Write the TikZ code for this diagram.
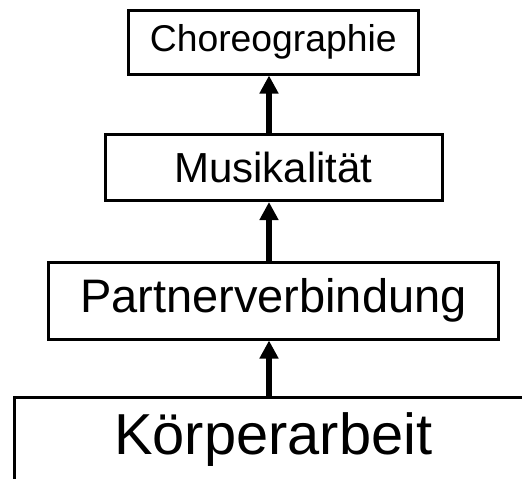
\documentclass[tikz,border=0pt]{standalone}
\usepackage{fontspec}
\setmainfont{Liberation Sans}
\usetikzlibrary{arrows.meta, positioning, calc}
\tikzset{
    stufe/.style={rectangle, draw=black, line width=3pt, fill=white, inner sep=0pt},
    pfeil/.style={-{Triangle[length=18pt,width=18pt]}, line width=6pt, draw=black}
}

\begin{document}
\begin{tikzpicture}[x=1pt, y=-1pt]
    \clip (0,0) rectangle (522,479);
    \node[stufe, minimum width=290.5pt, minimum height=63.5pt, font=\fontsize{37.3}{40}\selectfont] (choreo) at (273.25,42.25) {Choreographie};
    \node[stufe, minimum width=337pt, minimum height=66pt, font=\fontsize{42}{46}\selectfont] (musik) at (273.5,167.5) {Musikalität};
    \node[stufe, minimum width=450.7pt, minimum height=77pt, font=\fontsize{47}{52}\selectfont] (partner) at (273.35,300.5) {Partnerverbindung};
    \node[stufe, minimum width=518.6pt, minimum height=86pt, font=\fontsize{57.8}{64}\selectfont] (koerper) at (273.3,440) {Körperarbeit};
    \coordinate (achse) at (269,0);
    
    % Stufen von unten nach oben
    \draw[pfeil] (koerper.north -| achse) -- (partner.south -| achse);
    \draw[pfeil] (partner.north -| achse) -- (musik.south -| achse);
    \draw[pfeil] (musik.north -| achse) -- (choreo.south -| achse);
\end{tikzpicture}
\end{document}
